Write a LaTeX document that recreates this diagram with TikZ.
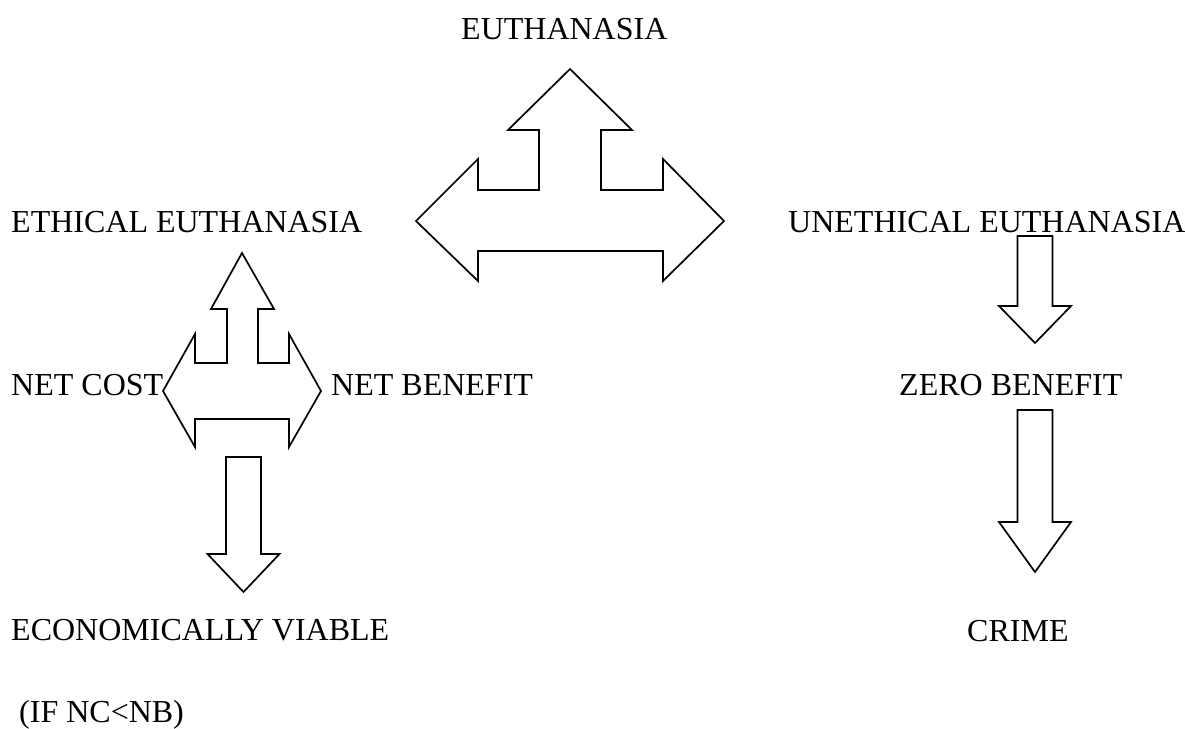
\documentclass[tikz,border=0pt]{standalone}
\usepackage{fontspec}
\setmainfont{Liberation Serif}
\usepackage{tikz}
\usetikzlibrary{positioning,calc}

\begin{document}
\begin{tikzpicture}[x=1pt,y=-1pt,
  lbl/.style={anchor=base west,inner sep=0pt,font=\fontsize{32}{38}\selectfont},
  blk/.style={draw=black,line width=1.7pt,fill=white}]
\useasboundingbox (0,0) rectangle (1185,728);
% labels
\node[lbl] (euth) at (461,39) {EUTHANASIA};
\node[lbl] (ethical) at (11,232) {ETHICAL EUTHANASIA};
\node[lbl] (unethical) at (788,232) {UNETHICAL EUTHANASIA};
\node[lbl] (netcost) at (11,395) {NET COST};
\node[lbl] (netben) at (331,395) {NET BENEFIT};
\node[lbl] (zero) at (899,395) {ZERO BENEFIT};
\node[lbl] (viable) at (11,640) {ECONOMICALLY VIABLE};
\node[lbl] (crime) at (967,641) {CRIME};
\node[lbl] (cond) at (19,722) {(IF NC<NB)};
% three-way arrows
\draw[blk] (570,69) -- (632,130) -- (601,130) -- (601,190) -- (663,190) -- (663,159)
  -- (724,221) -- (663,281) -- (663,251) -- (478,251) -- (478,281) -- (416,221)
  -- (478,159) -- (478,190) -- (539,190) -- (539,130) -- (508,130) -- cycle;
\draw[blk] (242,253) -- (274,309) -- (258,309) -- (258,363) -- (289,363) -- (289,334)
  -- (321,391) -- (289,447) -- (289,419) -- (195,419) -- (195,447) -- (163,391)
  -- (195,334) -- (195,363) -- (227,363) -- (227,309) -- (211,309) -- cycle;
% down arrows
\foreach \cx/\top/\base/\tip in {243.5/457/554/592, 1035/236/306/343, 1035/410/522/572}
  \draw[blk] (\cx-17.5,\top) -- (\cx+17.5,\top) -- (\cx+17.5,\base) -- (\cx+36,\base)
    -- (\cx,\tip) -- (\cx-36,\base) -- (\cx-17.5,\base) -- cycle;
\end{tikzpicture}
\end{document}
